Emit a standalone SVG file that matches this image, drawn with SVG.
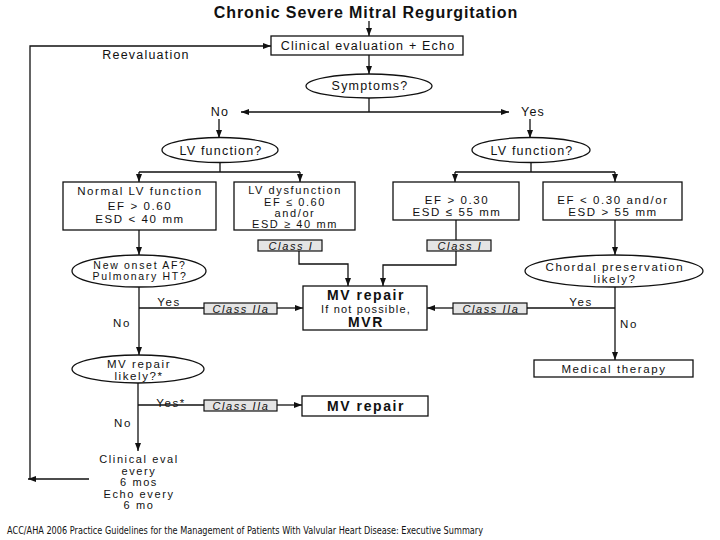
<svg xmlns="http://www.w3.org/2000/svg" width="720" height="540" viewBox="0 0 720 540">
<defs>
<marker id="ah" markerWidth="8" markerHeight="6" refX="8" refY="3" orient="auto" markerUnits="userSpaceOnUse"><path d="M0,0 L8,3 L0,6 Z" fill="#111"/></marker>
<style>
text{font-family:"Liberation Sans",Arial,sans-serif;fill:#111;text-anchor:middle}
.t{font-size:12.5px;letter-spacing:1.2px}
.m{font-size:11.5px;letter-spacing:1.6px}
.n{font-size:11px;letter-spacing:1.6px}
.b{font-weight:bold;font-size:14px;letter-spacing:1.6px}
.c{font-size:11px;font-style:italic;letter-spacing:1.6px}
.box{fill:#fff;stroke:#111;stroke-width:1.3}
.cls{fill:#e4e4e4;stroke:#111;stroke-width:1.2}
.el{fill:#fff;stroke:#111;stroke-width:1.3}
.ln{fill:none;stroke:#111;stroke-width:1.3}
.ar{fill:none;stroke:#111;stroke-width:1.3;marker-end:url(#ah)}
</style>
</defs>
<rect width="720" height="540" fill="#fff"/>
<text x="366" y="18" style="font-weight:bold;font-size:16px;letter-spacing:0.9px">Chronic Severe Mitral Regurgitation</text>
<g id="connectors">
<path class="ar" d="M369,21 V36"/>
<path class="ar" d="M369,55 V74"/>
<path class="ln" d="M369,98 V112"/>
<path class="ar" d="M369,112 H241"/>
<path class="ar" d="M369,112 H509"/>
<path class="ar" d="M219,119 V138"/>
<path class="ar" d="M530,119 V138"/>
<path class="ln" d="M220,162 V172 M139,172 H300 M531,162 V172 M455,172 H615"/>
<path class="ar" d="M139,172 V182"/>
<path class="ar" d="M300,172 V182"/>
<path class="ar" d="M455,172 V182"/>
<path class="ar" d="M615,172 V182"/>
<path class="ln" d="M456,220 V240"/>
<path class="ar" d="M456,251 V265 H383 V286"/>
<path class="ar" d="M299,251 V264 H348 V286"/>
<path class="ar" d="M139,230 V255"/>
<path class="ar" d="M139,287 V355"/>
<path class="ln" d="M139,308 H204"/>
<path class="ar" d="M277,308 H303"/>
<path class="ar" d="M615,220 V255"/>
<path class="ar" d="M615,287 V360"/>
<path class="ln" d="M615,308 H527"/>
<path class="ar" d="M453,308 H427"/>
<path class="ar" d="M138,383 V451"/>
<path class="ln" d="M138,405 H204"/>
<path class="ar" d="M277,405 H302"/>
<path class="ar" d="M89,479 H28"/>
<path class="ar" d="M30,479 V46 H271"/>
</g>
<g id="clin"><rect class="box" x="271" y="36" width="192" height="19"/><text x="368" y="50" class="t">Clinical evaluation + Echo</text></g>
<text x="146" y="59" class="t">Reevaluation</text>
<g id="symptoms"><ellipse class="el" cx="369" cy="86" rx="63" ry="12"/><text x="370" y="90" class="t">Symptoms?</text></g>
<text x="220" y="116" class="t">No</text>
<text x="533" y="116" class="t">Yes</text>
<g id="lvfL"><ellipse class="el" cx="220" cy="150" rx="58" ry="12.5"/><text x="221" y="155" class="t">LV function?</text></g>
<g id="lvfR"><ellipse class="el" cx="531" cy="150" rx="59" ry="12.5"/><text x="532" y="155" class="t">LV function?</text></g>
<g id="normal"><rect class="box" x="63" y="182" width="153" height="48"/><text x="140" y="195" class="m">Normal LV function</text><text x="140" y="210" class="m">EF &gt; 0.60</text><text x="140" y="223" class="m">ESD &lt; 40 mm</text></g>
<g id="dysf"><rect class="box" x="234" y="182" width="121" height="48"/><text x="295" y="194" class="n">LV dysfunction</text><text x="295" y="205.5" class="n">EF ≤ 0.60</text><text x="295" y="217" class="n">and/or</text><text x="295" y="228" class="n">ESD ≥ 40 mm</text></g>
<g id="ef30"><rect class="box" x="393" y="182" width="126" height="38"/><text x="457" y="204" class="m">EF &gt; 0.30</text><text x="457" y="216" class="m">ESD ≤ 55 mm</text></g>
<g id="ef30b"><rect class="box" x="543" y="182" width="139" height="38"/><text x="613" y="204" class="m">EF &lt; 0.30 and/or</text><text x="613" y="216" class="m">ESD &gt; 55 mm</text></g>
<g id="c1L"><rect class="cls" x="258" y="240" width="64" height="11"/><text x="291" y="250" class="c">Class I</text></g>
<g id="c1R"><rect class="cls" x="427" y="240" width="64" height="11"/><text x="460" y="250" class="c">Class I</text></g>
<g id="newonset"><ellipse class="el" cx="139" cy="271" rx="67" ry="16"/><text x="140" y="269" style="font-size:10.5px;letter-spacing:1.7px">New onset AF?</text><text x="140" y="280" style="font-size:10.5px;letter-spacing:1.7px">Pulmonary HT?</text></g>
<g id="chordal"><ellipse class="el" cx="614" cy="271" rx="89" ry="16"/><text x="615" y="271" class="m">Chordal preservation</text><text x="615" y="283" class="m">likely?</text></g>
<g id="mvr"><rect class="box" x="303" y="286" width="124" height="44"/><text x="366" y="300" class="b">MV repair</text><text x="366" y="313" style="font-size:11px;letter-spacing:1.2px">If not possible,</text><text x="366" y="327" class="b">MVR</text></g>
<text x="169" y="306" class="m">Yes</text>
<text x="122" y="327" class="m">No</text>
<g id="c2aL"><rect class="cls" x="204" y="303" width="73" height="11"/><text x="241" y="313" class="c">Class IIa</text></g>
<g id="c2aR"><rect class="cls" x="453" y="303" width="74" height="11"/><text x="491" y="313" class="c">Class IIa</text></g>
<text x="581" y="306" class="m">Yes</text>
<text x="629" y="328" class="m">No</text>
<g id="medical"><rect class="box" x="534" y="360" width="159" height="17"/><text x="614" y="373" class="m">Medical therapy</text></g>
<g id="likely"><ellipse class="el" cx="138" cy="369" rx="66" ry="14"/><text x="139" y="368" class="m">MV repair</text><text x="139" y="380" class="m">likely?*</text></g>
<text x="171" y="407" class="m">Yes*</text>
<text x="123" y="427" class="m">No</text>
<g id="c2aB"><rect class="cls" x="204" y="400" width="73" height="11"/><text x="241" y="410" class="c">Class IIa</text></g>
<g id="mvrep"><rect class="box" x="302" y="396" width="126" height="20"/><text x="366" y="411" class="b">MV repair</text></g>
<g id="clineval"><text x="139" y="463" class="n">Clinical eval</text><text x="139" y="474.5" class="n">every</text><text x="139" y="486" class="n">6 mos</text><text x="139" y="497.5" class="n">Echo every</text><text x="139" y="509" class="n">6 mo</text></g>
<text x="7" y="534" style="font-family:'DejaVu Sans',Tahoma,sans-serif;font-size:10px;text-anchor:start" textLength="476" lengthAdjust="spacingAndGlyphs">ACC/AHA 2006 Practice Guidelines for the Management of Patients With Valvular Heart Disease: Executive Summary</text>
</svg>
